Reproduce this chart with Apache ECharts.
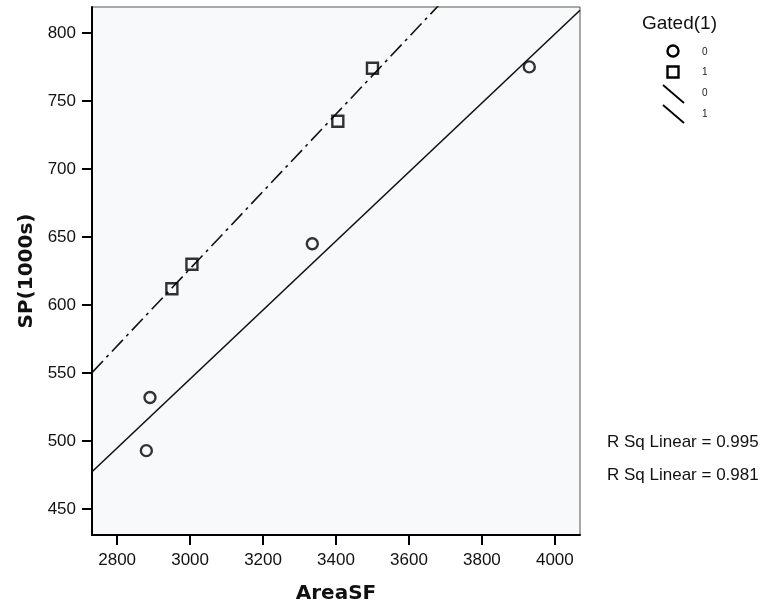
<!DOCTYPE html>
<html>
<head>
<meta charset="utf-8">
<script src="https://cdn.jsdelivr.net/npm/echarts@6/dist/echarts.min.js"></script>
<style>
html,body{margin:0;padding:0;background:#fff;}
#c{width:760px;height:610px;}
</style>
</head>
<body>
<div id="c"></div>
<script>
// ---- data ----
var gated0X = [2880, 2890, 3335, 3930];
var gated0Y = [493, 532, 645, 775];
var gated1X = [2950, 3005, 3405, 3500];
var gated1Y = [612, 630, 735, 774];
var xTicks = [2800, 3000, 3200, 3400, 3600, 3800, 4000];
var yTicks = [450, 500, 550, 600, 650, 700, 750, 800];
var legendLabels = ['0', '1', '0', '1'];
var legendTitle = 'Gated(1)';
var rsqTexts = ['R Sq Linear = 0.995', 'R Sq Linear = 0.981'];
var xMin = 2731, xMax = 4069, yMin = 431, yMax = 819;

function pairs(xs, ys) { return xs.map(function (x, i) { return [x, ys[i]]; }); }
// least-squares fit line through a group's points, spanning the x axis
function fitLine(xs, ys) {
  var n = xs.length, mx = 0, my = 0;
  for (var i = 0; i < n; i++) { mx += xs[i]; my += ys[i]; }
  mx /= n; my /= n;
  var sxx = 0, sxy = 0;
  for (var j = 0; j < n; j++) { sxx += (xs[j] - mx) * (xs[j] - mx); sxy += (xs[j] - mx) * (ys[j] - my); }
  var b = sxy / sxx, a = my - b * mx;
  return [[xMin, a + b * xMin], [xMax, a + b * xMax]];
}

var chart = echarts.init(document.getElementById('c'), null, {renderer: 'canvas'});
var ink = '#000';
var tickFont = {color: '#111', fontSize: 17, fontFamily: 'Liberation Sans, Arial, sans-serif',
                formatter: function (v) { return String(v); }};

chart.setOption({
  animation: false,
  backgroundColor: '#fff',
  grid: {left: 92, right: 180, top: 7, bottom: 75, show: true,
         backgroundColor: '#f7f9fb', borderColor: '#555', borderWidth: 1},
  xAxis: {
    type: 'value', min: xMin, max: xMax,
    name: 'AreaSF', nameLocation: 'middle', nameGap: 49,
    nameTextStyle: {fontFamily: 'DejaVu Sans', fontWeight: 'bold', fontSize: 20, color: '#111'},
    axisLine: {show: true, onZero: false, lineStyle: {color: '#000', width: 2}},
    axisTick: {show: true, inside: false, length: 10, lineStyle: {color: '#000', width: 2}, customValues: xTicks},
    axisLabel: Object.assign({margin: 17, customValues: xTicks}, tickFont),
    splitLine: {show: false}
  },
  yAxis: {
    type: 'value', min: yMin, max: yMax,
    name: 'SP(1000s)', nameLocation: 'middle', nameGap: 53, nameRotate: 90,
    nameTextStyle: {fontFamily: 'DejaVu Sans', fontWeight: 'bold', fontSize: 20, color: '#111'},
    axisLine: {show: true, onZero: false, lineStyle: {color: '#000', width: 2}},
    axisTick: {show: true, inside: false, length: 10, lineStyle: {color: '#000', width: 2}, customValues: yTicks},
    axisLabel: Object.assign({margin: 16, customValues: yTicks}, tickFont),
    splitLine: {show: false}
  },
  series: [
    {name: 'fit0', type: 'line', data: fitLine(gated0X, gated0Y), symbol: 'none', clip: true,
     lineStyle: {color: '#111', width: 1.6}, z: 2},
    {name: 'fit1', type: 'line', data: fitLine(gated1X, gated1Y), symbol: 'none', clip: true,
     lineStyle: {color: '#111', width: 1.6, type: [16, 5, 3, 5]}, z: 2},
    {name: '0', type: 'scatter', data: pairs(gated0X, gated0Y), symbol: 'circle', symbolSize: 11,
     itemStyle: {color: 'rgba(0,0,0,0)', borderColor: ink, borderWidth: 2.4}, z: 3},
    {name: '1', type: 'scatter', data: pairs(gated1X, gated1Y), symbol: 'rect', symbolSize: 11,
     itemStyle: {color: 'rgba(0,0,0,0)', borderColor: ink, borderWidth: 2.4}, z: 3}
  ],
  graphic: [
    {type: 'text', left: 642, top: 14, style: {text: legendTitle, fontSize: 19, fontFamily: 'Liberation Sans, Arial', fill: '#111'}},
    {type: 'circle', shape: {cx: 673, cy: 51, r: 5.5}, style: {fill: 'none', stroke: ink, lineWidth: 2.4}},
    {type: 'rect', shape: {x: 667.5, y: 66.5, width: 11, height: 11}, style: {fill: 'none', stroke: ink, lineWidth: 2.4}},
    {type: 'line', shape: {x1: 663, y1: 85, x2: 684, y2: 103}, style: {stroke: ink, lineWidth: 1.8}},
    {type: 'line', shape: {x1: 663, y1: 105, x2: 684, y2: 123}, style: {stroke: ink, lineWidth: 1.8}},
    {type: 'text', x: 702, y: 52, style: {text: legendLabels[0], fontSize: 10, fontFamily: 'Liberation Sans, Arial', fill: '#222', verticalAlign: 'middle'}},
    {type: 'text', x: 702, y: 72, style: {text: legendLabels[1], fontSize: 10, fontFamily: 'Liberation Sans, Arial', fill: '#222', verticalAlign: 'middle'}},
    {type: 'text', x: 702, y: 93, style: {text: legendLabels[2], fontSize: 10, fontFamily: 'Liberation Sans, Arial', fill: '#222', verticalAlign: 'middle'}},
    {type: 'text', x: 702, y: 114, style: {text: legendLabels[3], fontSize: 10, fontFamily: 'Liberation Sans, Arial', fill: '#222', verticalAlign: 'middle'}},
    {type: 'text', x: 607, y: 442, style: {text: rsqTexts[0], fontSize: 17, fontFamily: 'Liberation Sans, Arial', fill: '#111', verticalAlign: 'middle'}},
    {type: 'text', x: 607, y: 475, style: {text: rsqTexts[1], fontSize: 17, fontFamily: 'Liberation Sans, Arial', fill: '#111', verticalAlign: 'middle'}}
  ]
});
</script>
</body>
</html>
